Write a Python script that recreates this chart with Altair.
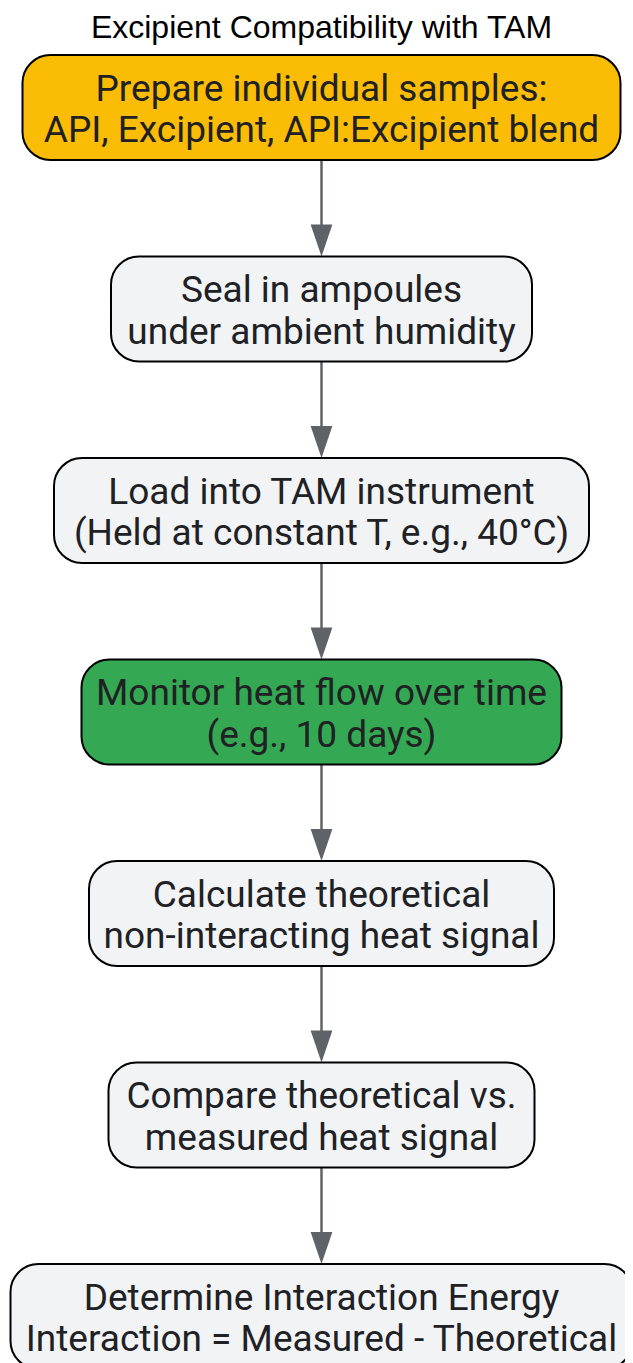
import altair as alt
import pandas as pd

# ---------------- data ----------------
title_text = "Excipient Compatibility with TAM"
line1 = [
    "Prepare individual samples:",
    "Seal in ampoules",
    "Load into TAM instrument",
    "Monitor heat flow over time",
    "Calculate theoretical",
    "Compare theoretical vs.",
    "Determine Interaction Energy",
]
line2 = [
    "API, Excipient, API:Excipient blend",
    "under ambient humidity",
    "(Held at constant T, e.g., 40°C)",
    "(e.g., 10 days)",
    "non-interacting heat signal",
    "measured heat signal",
    "Interaction = Measured - Theoretical",
]
kinds = ["start", "process", "process", "highlight", "process", "process", "process"]
kind_domain = ["start", "process", "highlight"]
kind_colors = ["#FBBC05", "#F1F3F4", "#34A853"]

# ---------------- layout (reference page pixels) ----------------
PAGE_W, PAGE_H, MARGIN = 633, 1363, 8
CHART_W, CHART_H = PAGE_W - 2 * MARGIN, PAGE_H - MARGIN
CX = 321.5
TOP0, PITCH, BOX_H = 55, 201.5, 105
NODE_W = [598, 421, 535, 480, 465, 426, 622]
LINE_GAP = 41.5
TEXT_SHIFT = 3.0
HEAD_LEN = 32
TITLE_Y = 28

nodes, texts, edges, heads = [], [], [], []
for i, (a, b, k) in enumerate(zip(line1, line2, kinds)):
    top = TOP0 + i * PITCH
    cy = top + BOX_H / 2 + TEXT_SHIFT
    w = NODE_W[i]
    nodes.append(dict(x=CX - w / 2, x2=CX + w / 2, y=top, y2=top + BOX_H, kind=k))
    texts.append(dict(x=CX, y=cy - LINE_GAP / 2, t=a))
    texts.append(dict(x=CX, y=cy + LINE_GAP / 2, t=b))
    if i < len(line1) - 1:
        nxt = TOP0 + (i + 1) * PITCH
        edges.append(dict(x=CX, y=top + BOX_H, y2=nxt - HEAD_LEN + 2))
        heads.append(dict(x=CX, y=nxt - HEAD_LEN / 2))

xs = alt.Scale(domain=[MARGIN, MARGIN + CHART_W], range=[0, CHART_W], nice=False, zero=False)
ys = alt.Scale(domain=[MARGIN, MARGIN + CHART_H], range=[0, CHART_H], nice=False, zero=False)

X = lambda f="x": alt.X(f"{f}:Q", scale=xs, axis=None)
Y = lambda f="y": alt.Y(f"{f}:Q", scale=ys, axis=None)

edge_layer = alt.Chart(pd.DataFrame(edges)).mark_rule(color="#5F6368", strokeWidth=2.5).encode(
    x=X(), y=Y(), y2="y2:Q"
)
head_layer = alt.Chart(pd.DataFrame(heads)).mark_point(
    shape="M -0.68 -1 L 0.68 -1 L 0 1 Z", size=HEAD_LEN ** 2, filled=True,
    color="#5F6368", opacity=1, strokeWidth=0
).encode(x=X(), y=Y())

node_layer = alt.Chart(pd.DataFrame(nodes)).mark_rect(
    cornerRadius=28, stroke="#000000", strokeWidth=2
).encode(
    x=X(), x2="x2:Q", y=Y(), y2="y2:Q",
    fill=alt.Fill("kind:N", scale=alt.Scale(domain=kind_domain, range=kind_colors), legend=None),
)

text_layer = alt.Chart(pd.DataFrame(texts)).mark_text(
    font="Roboto", fontSize=37, color="#202124", align="center", baseline="middle"
).encode(x=X(), y=Y(), text="t:N")

title_layer = alt.Chart(pd.DataFrame([dict(x=CX, y=TITLE_Y, t=title_text)])).mark_text(
    font="Liberation Sans", fontSize=32, color="#000000", align="center", baseline="middle"
).encode(x=X(), y=Y(), text="t:N")

chart = alt.layer(edge_layer, head_layer, node_layer, text_layer, title_layer).properties(
    width=CHART_W, height=CHART_H,
    autosize=alt.AutoSizeParams(type="none"), padding=0,
).configure_view(stroke=None)

chart.save("out.html", embed_options={"renderer": "svg", "actions": False})
